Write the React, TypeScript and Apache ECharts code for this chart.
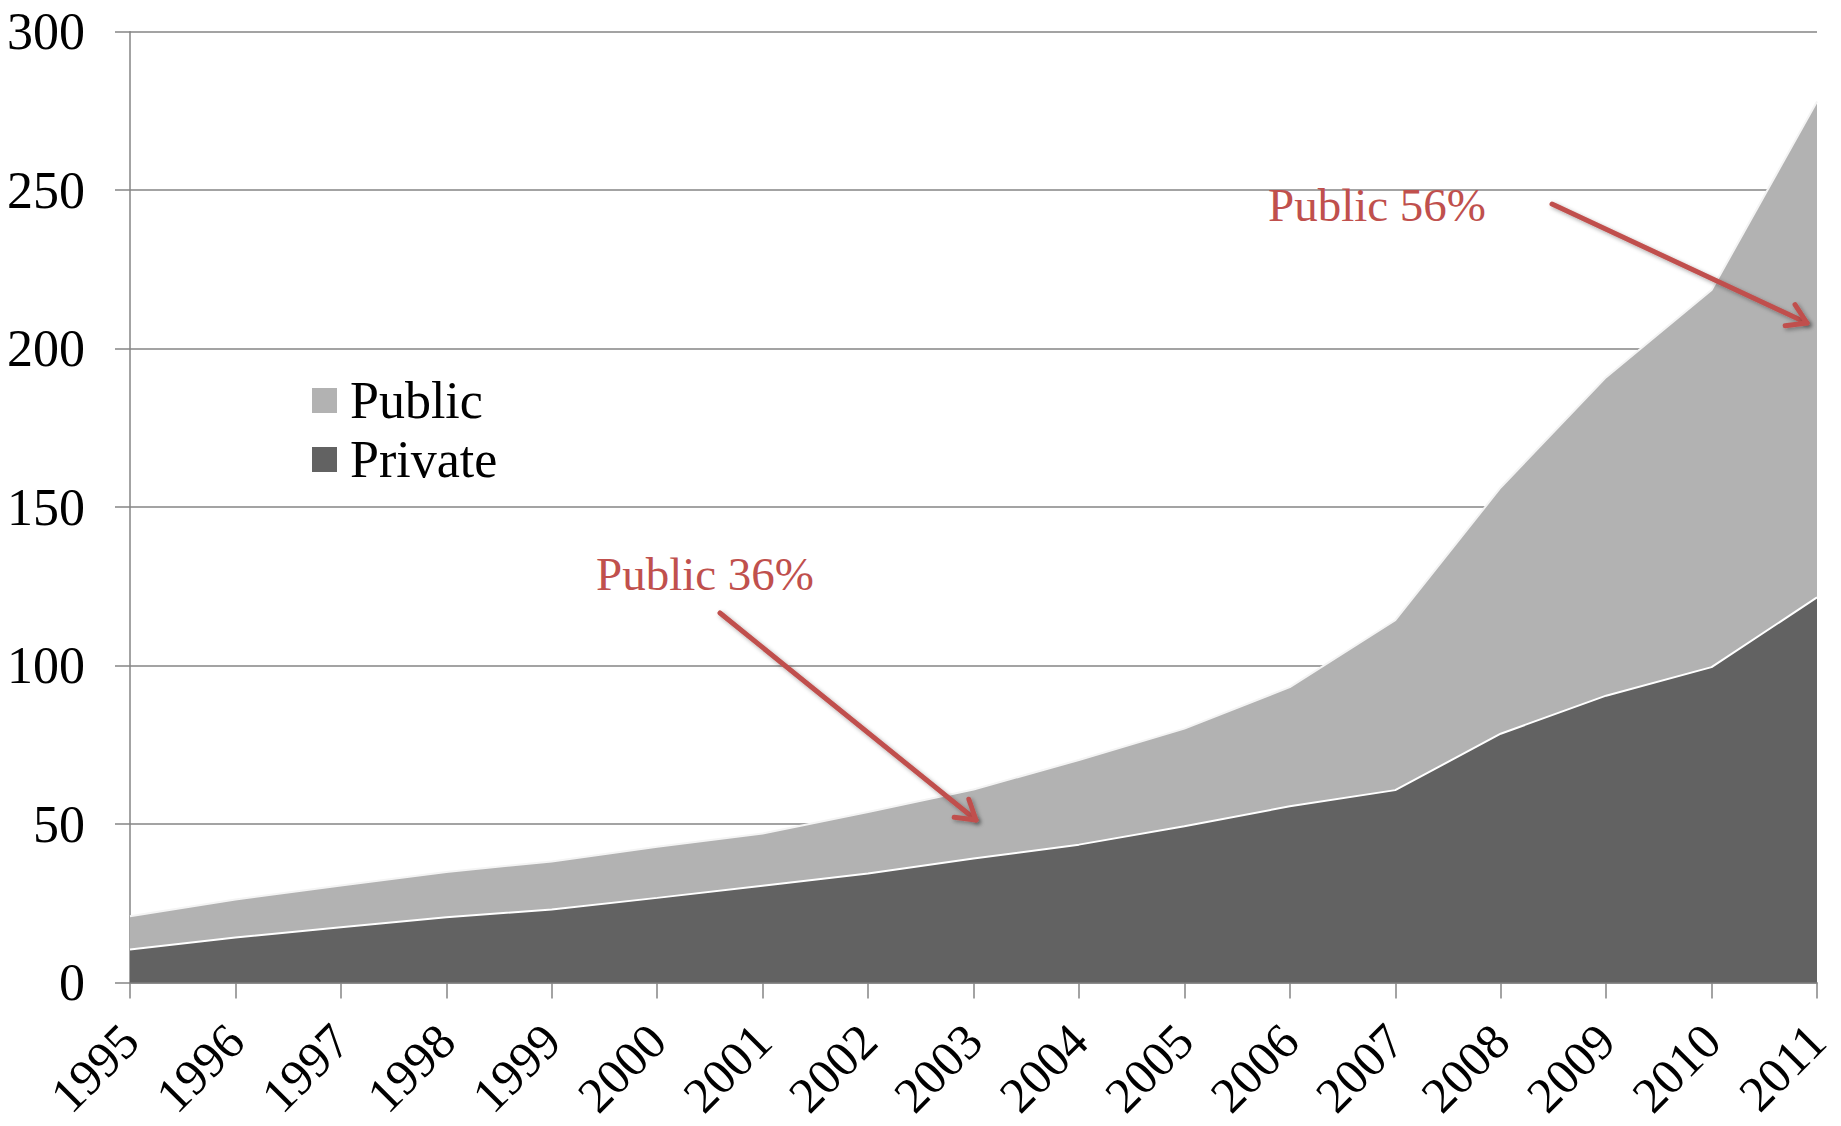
import React, { useEffect, useRef } from "react";
import * as echarts from "echarts";

const years = ["1995","1996","1997","1998","1999","2000","2001","2002","2003","2004","2005","2006","2007","2008","2009","2010","2011"];
const privateValues = [10.4, 14.2, 17.4, 20.6, 23.0, 26.7, 30.5, 34.4, 39.1, 43.5, 49.3, 55.6, 60.7, 78.5, 90.5, 99.5, 121.5];
const publicValues = [10.5, 12.0, 13.2, 14.3, 15.2, 16.1, 16.5, 19.4, 21.8, 26.7, 30.8, 37.6, 53.6, 77.7, 100.5, 119.0, 156.5];
const legendOrder = ["Public", "Private"];
const yMin = 0;
const yMax = 300;
const yStep = 50;
const noteTexts = ["Public 36%", "Public 56%"];

const FONT = '"Liberation Serif", "Times New Roman", serif';
const RED = "#c0504d";
const AXIS_FS = 52;

function arrow(x1: number, y1: number, x2: number, y2: number) {
  const dx = x2 - x1, dy = y2 - y1;
  const len = Math.hypot(dx, dy);
  const ux = -dx / len, uy = -dy / len;
  const a = (32 * Math.PI) / 180;
  const L = 22;
  const w1 = [x2 + L * (ux * Math.cos(a) - uy * Math.sin(a)), y2 + L * (ux * Math.sin(a) + uy * Math.cos(a))];
  const w2 = [x2 + L * (ux * Math.cos(-a) - uy * Math.sin(-a)), y2 + L * (ux * Math.sin(-a) + uy * Math.cos(-a))];
  const style = {
    stroke: RED,
    lineWidth: 5,
    lineCap: "round",
    lineJoin: "round",
    fill: null,
    shadowBlur: 4,
    shadowColor: "rgba(0,0,0,0.35)",
    shadowOffsetX: 2,
    shadowOffsetY: 2,
  };
  return [
    { type: "line", shape: { x1, y1, x2, y2 }, style, z: 100 },
    { type: "polyline", shape: { points: [w1, [x2, y2], w2] }, style, z: 100 },
  ];
}

export default function App() {
  const ref = useRef<HTMLDivElement>(null);
  useEffect(() => {
    document.body.style.margin = "0";
    const chart = echarts.init(ref.current!, null, { renderer: "svg" });
    const option = {
      animation: false,
      backgroundColor: "#ffffff",
      grid: { left: 130, right: 24, top: 31.7, bottom: 143.5, containLabel: false, outerBoundsMode: "none" },
      legend: {
        data: legendOrder,
        orient: "vertical",
        left: 312,
        top: 373,
        padding: 0,
        itemWidth: 25,
        itemHeight: 25,
        itemGap: 4,
        icon: "rect",
        textStyle: { fontSize: AXIS_FS, fontFamily: FONT, color: "#000", lineHeight: 55, padding: [0, 0, 0, 8] },
      },
      xAxis: {
        type: "category",
        data: years,
        boundaryGap: false,
        axisLine: { lineStyle: { color: "#858585", width: 1.5 } },
        axisTick: { show: true, length: 16, lineStyle: { color: "#858585", width: 1.5 } },
        axisLabel: { rotate: 45, fontSize: 50, fontFamily: FONT, color: "#000", margin: 50, interval: 0 },
        splitLine: { show: false },
      },
      yAxis: {
        type: "value",
        min: yMin,
        max: yMax,
        interval: yStep,
        axisLine: { show: true, lineStyle: { color: "#858585", width: 1.5 } },
        axisTick: { show: true, length: 15, lineStyle: { color: "#858585", width: 1.5 } },
        axisLabel: { fontSize: AXIS_FS, fontFamily: FONT, color: "#000", margin: 45 },
        splitLine: { show: true, lineStyle: { color: "#858585", width: 1.5 } },
      },
      series: [
        {
          name: "Private",
          type: "line",
          stack: "total",
          data: privateValues,
          symbol: "none",
          itemStyle: { color: "#626262" },
          lineStyle: { color: "#ffffff", width: 2 },
          areaStyle: { color: "#626262", opacity: 1 },
          z: 3,
        },
        {
          name: "Public",
          type: "line",
          stack: "total",
          data: publicValues,
          symbol: "none",
          itemStyle: { color: "#b2b2b2" },
          lineStyle: { color: "#f4f4f4", width: 2 },
          areaStyle: { color: "#b2b2b2", opacity: 1 },
          z: 2,
        },
      ],
      graphic: [
        {
          type: "text",
          left: 596,
          top: 577 - 27,
          style: { text: noteTexts[0], fill: RED, fontSize: 47, fontFamily: FONT },
          z: 100,
        },
        {
          type: "text",
          left: 1268,
          top: 208 - 27,
          style: { text: noteTexts[1], fill: RED, fontSize: 47, fontFamily: FONT },
          z: 100,
        },
        ...arrow(720, 613, 976, 820),
        ...arrow(1552, 204, 1807, 323),
      ],
    };
    chart.setOption(option as any);
    return () => chart.dispose();
  }, []);
  return <div ref={ref} style={{ width: 1841, height: 1126 }} />;
}
